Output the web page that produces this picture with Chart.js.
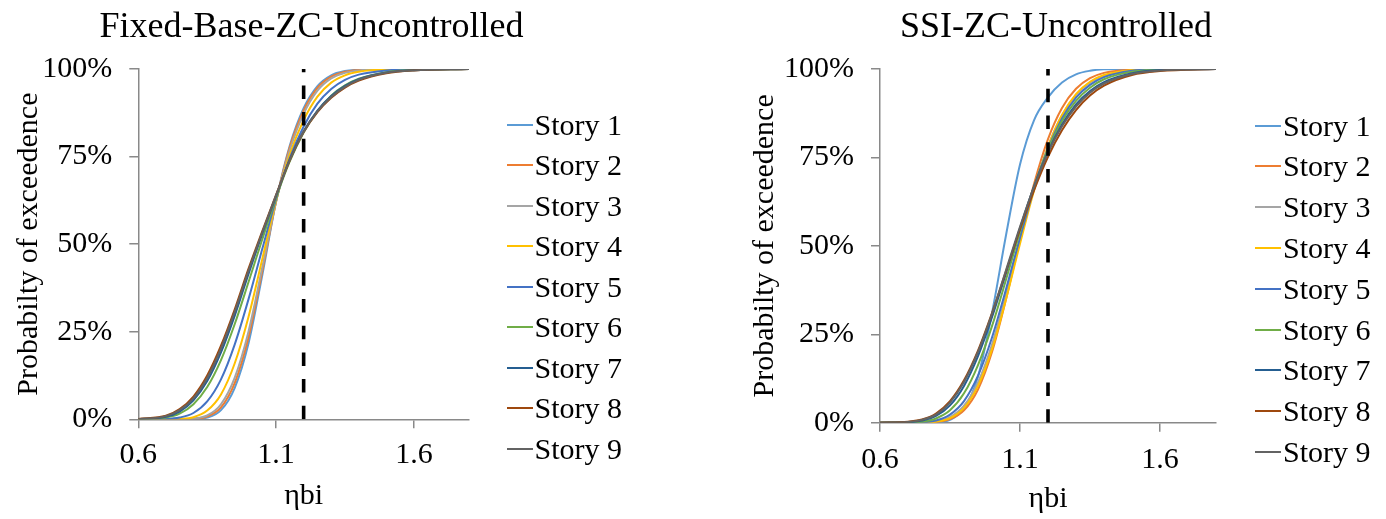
<!DOCTYPE html>
<html>
<head>
<meta charset="utf-8">
<script src="https://cdn.jsdelivr.net/npm/chart.js@4.4.1/dist/chart.umd.min.js"></script>
<style>
  html, body { margin: 0; padding: 0; background: #ffffff; }
  #wrap { position: relative; width: 1386px; height: 519px; overflow: hidden;
          font-family: "Liberation Serif", "Times New Roman", serif; color: #000; }
  #wrap canvas { position: absolute; top: 0; }
  .panel-title { position: absolute; top: 7px; width: 600px; text-align: center;
                 font-size: 36px; line-height: 36px; white-space: nowrap; }
  .leg { position: absolute; height: 30px; display: flex; align-items: center;
         font-size: 30px; line-height: 30px; white-space: nowrap; }
  .leg i { display: inline-block; width: 26px; height: 2px; margin-right: 2px; }
</style>
</head>
<body>
<div id="wrap">
  <canvas id="fixedBase" width="693" height="519" style="left:0px"></canvas>
  <canvas id="ssi" width="693" height="519" style="left:693px"></canvas>
</div>
<script>
// ---- data ----
const xValues = [0.6, 0.7, 0.75, 0.8, 0.85, 0.9, 0.95, 1.0, 1.05, 1.1, 1.15, 1.2, 1.25, 1.3, 1.35, 1.4, 1.5, 1.6, 1.8];
const xTicks = [0.6, 1.1, 1.6];
const yTicks = [0, 0.25, 0.5, 0.75, 1];
const limitEta = 1.2;

const storyNames = ['Story 1', 'Story 2', 'Story 3', 'Story 4', 'Story 5', 'Story 6', 'Story 7', 'Story 8', 'Story 9'];
const storyColors = ['#5B9BD5', '#ED7D31', '#A5A5A5', '#FFC000', '#4472C4', '#70AD47', '#255E91', '#9E480E', '#636363'];

const panelTitles = ['Fixed-Base-ZC-Uncontrolled', 'SSI-ZC-Uncontrolled'];
const xAxisTitle = 'ηbi';
const yAxisTitle = 'Probabilty of exceedence';

// Fixed-base model: probability of exceedence per story
const fbStory1 = [0, 0, 0, 0.001, 0.005, 0.026, 0.090, 0.217, 0.412, 0.622, 0.782, 0.888, 0.951, 0.982, 0.994, 0.998, 1, 1, 1];
const fbStory2 = [0, 0, 0, 0.001, 0.008, 0.034, 0.104, 0.234, 0.424, 0.622, 0.777, 0.881, 0.946, 0.978, 0.992, 0.997, 1, 1, 1];
const fbStory3 = [0, 0, 0, 0.002, 0.011, 0.043, 0.119, 0.251, 0.434, 0.622, 0.769, 0.872, 0.938, 0.973, 0.989, 0.996, 1, 1, 1];
const fbStory4 = [0, 0, 0.001, 0.006, 0.025, 0.071, 0.160, 0.293, 0.458, 0.624, 0.757, 0.854, 0.921, 0.961, 0.982, 0.992, 0.999, 1, 1];
const fbStory5 = [0, 0.001, 0.005, 0.018, 0.051, 0.114, 0.214, 0.343, 0.487, 0.628, 0.746, 0.836, 0.901, 0.943, 0.969, 0.984, 0.996, 0.999, 1];
const fbStory6 = [0, 0.005, 0.016, 0.043, 0.092, 0.169, 0.272, 0.392, 0.514, 0.633, 0.737, 0.819, 0.880, 0.924, 0.953, 0.972, 0.991, 0.997, 1];
const fbStory7 = [0, 0.007, 0.022, 0.054, 0.109, 0.191, 0.296, 0.415, 0.530, 0.638, 0.742, 0.822, 0.881, 0.923, 0.952, 0.971, 0.990, 0.997, 1];
const fbStory8 = [0.001, 0.010, 0.029, 0.065, 0.125, 0.210, 0.314, 0.430, 0.537, 0.641, 0.740, 0.820, 0.877, 0.918, 0.947, 0.967, 0.988, 0.996, 1];
const fbStory9 = [0, 0.009, 0.026, 0.060, 0.118, 0.202, 0.307, 0.424, 0.534, 0.640, 0.741, 0.821, 0.879, 0.920, 0.949, 0.969, 0.989, 0.996, 1];

// SSI model: probability of exceedence per story
const ssiStory1 = [0, 0, 0, 0.001, 0.008, 0.040, 0.130, 0.310, 0.530, 0.730, 0.855, 0.920, 0.962, 0.985, 0.995, 0.999, 1, 1, 1];
const ssiStory2 = [0, 0, 0, 0.002, 0.010, 0.035, 0.094, 0.200, 0.349, 0.517, 0.675, 0.802, 0.890, 0.944, 0.974, 0.989, 0.998, 1, 1];
const ssiStory3 = [0, 0, 0.001, 0.004, 0.016, 0.048, 0.114, 0.221, 0.361, 0.515, 0.661, 0.781, 0.869, 0.927, 0.962, 0.981, 0.996, 0.999, 1];
const ssiStory4 = [0, 0, 0, 0.003, 0.013, 0.042, 0.104, 0.208, 0.349, 0.506, 0.656, 0.780, 0.870, 0.929, 0.964, 0.983, 0.997, 1, 1];
const ssiStory5 = [0, 0, 0.001, 0.006, 0.023, 0.061, 0.133, 0.241, 0.377, 0.523, 0.661, 0.775, 0.860, 0.919, 0.955, 0.977, 0.995, 0.999, 1];
const ssiStory6 = [0, 0.001, 0.003, 0.012, 0.035, 0.083, 0.163, 0.273, 0.404, 0.540, 0.667, 0.772, 0.853, 0.910, 0.947, 0.971, 0.992, 0.998, 1];
const ssiStory7 = [0, 0.001, 0.006, 0.019, 0.049, 0.104, 0.188, 0.298, 0.423, 0.550, 0.668, 0.766, 0.843, 0.900, 0.938, 0.963, 0.988, 0.997, 1];
const ssiStory8 = [0, 0.003, 0.009, 0.026, 0.061, 0.120, 0.204, 0.310, 0.428, 0.547, 0.657, 0.752, 0.827, 0.884, 0.925, 0.953, 0.983, 0.994, 1];
const ssiStory9 = [0, 0.002, 0.008, 0.023, 0.057, 0.115, 0.200, 0.308, 0.431, 0.554, 0.667, 0.763, 0.838, 0.894, 0.933, 0.959, 0.986, 0.996, 1];

const fixedBaseSeries = [fbStory1, fbStory2, fbStory3, fbStory4, fbStory5, fbStory6, fbStory7, fbStory8, fbStory9];
const ssiSeries = [ssiStory1, ssiStory2, ssiStory3, ssiStory4, ssiStory5, ssiStory6, ssiStory7, ssiStory8, ssiStory9];

// ---- styling ----
const axisGray = '#898989';
const textSize = 30;
Chart.defaults.font.family = "'Liberation Serif', 'Times New Roman', serif";
Chart.defaults.color = '#000';

function buildPanel(canvasId, series, g) {
  const datasets = series.map((vals, i) => ({
    label: storyNames[i],
    data: xValues.map((x, k) => ({ x: x, y: vals[k] })),
    borderColor: storyColors[i],
    backgroundColor: storyColors[i],
    borderWidth: 2,
    pointRadius: 0,
    fill: false,
    cubicInterpolationMode: 'monotone',
    order: series.length - i          // later stories drawn on top
  }));
  // vertical dashed reference line at the limit value
  datasets.push({
    label: 'limit',
    data: [{ x: limitEta, y: yTicks[0] }, { x: limitEta, y: yTicks[yTicks.length - 1] }],
    borderColor: '#000',
    borderWidth: 3.6,
    borderDash: [13.5, 13.2],
    pointRadius: 0,
    fill: false,
    order: 0
  });

  return new Chart(document.getElementById(canvasId), {
    type: 'line',
    data: { datasets },
    options: {
      responsive: false,
      animation: false,
      events: [],
      layout: { padding: { top: g.top, right: g.right, bottom: 0, left: 0 } },
      plugins: { legend: { display: false }, tooltip: { enabled: false }, title: { display: false } },
      scales: {
        x: {
          type: 'linear', min: 0.6, max: 1.8,
          afterBuildTicks: s => { s.ticks = xTicks.map(v => ({ value: v })); },
          afterFit: s => { s.height = g.xh; },
          ticks: { color: '#000', font: { size: textSize }, padding: g.xpad, maxRotation: 0, autoSkip: false,
                   callback: v => Number(v).toFixed(1) },
          grid: { drawOnChartArea: false, drawTicks: true, tickLength: 9, color: axisGray, lineWidth: 1.5 },
          border: { display: true, color: axisGray, width: 1.5 },
          title: { display: true, text: xAxisTitle, color: '#000', font: { size: textSize },
                   padding: { top: 0, bottom: g.xtp } }
        },
        y: {
          type: 'linear', min: 0, max: 1,
          afterBuildTicks: s => { s.ticks = yTicks.map(v => ({ value: v })); },
          afterFit: s => { s.width = g.yw; },
          ticks: { color: '#000', font: { size: textSize }, padding: 17, autoSkip: false,
                   callback: v => Math.round(v * 100) + '%' },
          grid: { drawOnChartArea: false, drawTicks: true, tickLength: 9, color: axisGray, lineWidth: 1.5 },
          border: { display: true, color: axisGray, width: 1.5 },
          title: { display: true, text: yAxisTitle, color: '#000', font: { size: textSize },
                   padding: { top: g.ytp, bottom: 0 } }
        }
      }
    }
  });
}

buildPanel('fixedBase', fixedBaseSeries, { top: 69, right: 224, xh: 99.7, yw: 138.3, xpad: 9, xtp: 5, ytp: 11 });
buildPanel('ssi', ssiSeries, { top: 69, right: 170, xh: 96.3, yw: 187, xpad: 10, xtp: 2, ytp: 54 });

// ---- panel titles and legends ----
const wrap = document.getElementById('wrap');
const titleCenters = [311.5, 1056];
panelTitles.forEach((t, i) => {
  const d = document.createElement('div');
  d.className = 'panel-title';
  d.style.left = (titleCenters[i] - 300) + 'px';
  d.textContent = t;
  wrap.appendChild(d);
});

const legendBoxes = [
  { x: 506.5, y0: 124.5, dy: 40.5 },
  { x: 1255, y0: 125.5, dy: 40.8 }
];
legendBoxes.forEach(b => {
  storyNames.forEach((name, i) => {
    const item = document.createElement('div');
    item.className = 'leg';
    item.style.left = b.x + 'px';
    item.style.top = (b.y0 + i * b.dy - 15) + 'px';
    const line = document.createElement('i');
    line.style.background = storyColors[i];
    item.appendChild(line);
    item.appendChild(document.createTextNode(name));
    wrap.appendChild(item);
  });
});
</script>
</body>
</html>
